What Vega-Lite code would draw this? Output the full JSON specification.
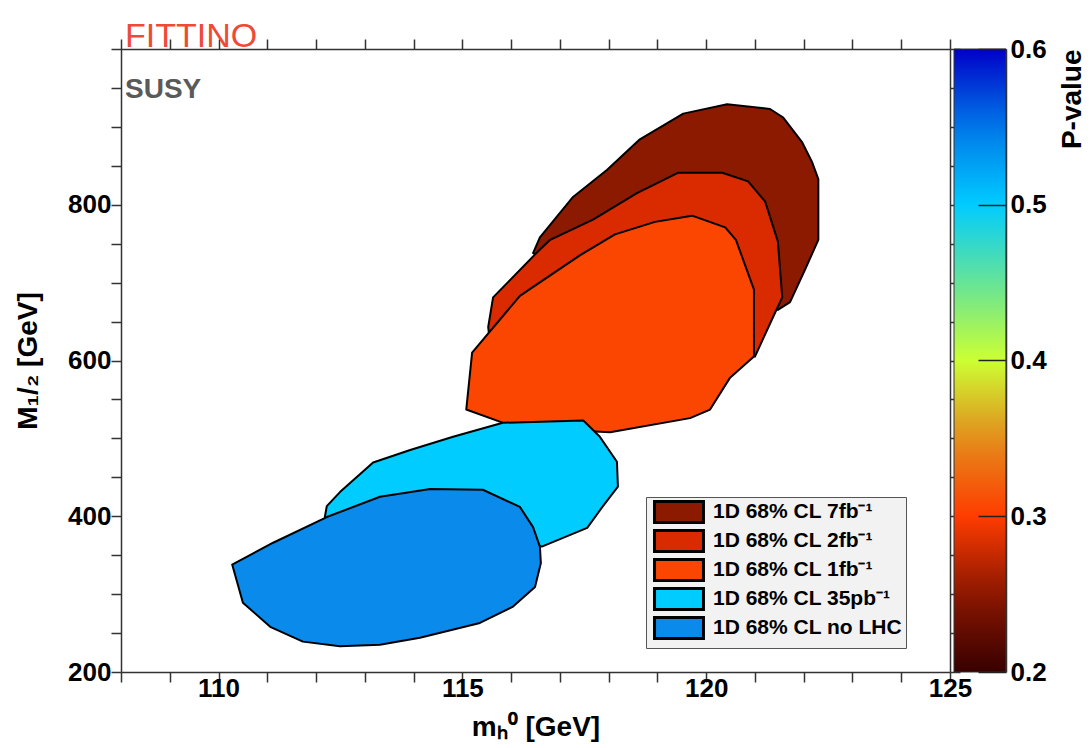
{
  "$schema": "https://vega.github.io/schema/vega-lite/v6.json",
  "width": 829,
  "height": 623,
  "autosize": {"type": "none"},
  "padding": {"left": 121, "top": 49, "right": 140, "bottom": 76},
  "background": "white",
  "config": {
    "font": "Liberation Sans",
    "view": {"stroke": null}
  },
  "title": {
    "text": "FITTINO",
    "subtitle": "SUSY",
    "anchor": "start",
    "frame": "group",
    "orient": "top",
    "offset": -68,
    "font": "Liberation Sans",
    "fontSize": 34,
    "fontWeight": "normal",
    "color": "#f04a36",
    "subtitleFont": "Liberation Sans",
    "subtitleFontSize": 28,
    "subtitleFontWeight": "bold",
    "subtitleColor": "#5a5a5a",
    "subtitlePadding": 22,
    "dx": 4
  },
  "datasets": {
    "regions": [
      {"region": "1D 68% CL 7fb⁻¹", "i": 0, "m_h0": 116.45, "M12": 738, "pvalue": 0.25},
      {"region": "1D 68% CL 7fb⁻¹", "i": 1, "m_h0": 116.59, "M12": 758, "pvalue": 0.25},
      {"region": "1D 68% CL 7fb⁻¹", "i": 2, "m_h0": 117.27, "M12": 810, "pvalue": 0.25},
      {"region": "1D 68% CL 7fb⁻¹", "i": 3, "m_h0": 117.97, "M12": 845, "pvalue": 0.25},
      {"region": "1D 68% CL 7fb⁻¹", "i": 4, "m_h0": 118.64, "M12": 884, "pvalue": 0.25},
      {"region": "1D 68% CL 7fb⁻¹", "i": 5, "m_h0": 119.53, "M12": 917, "pvalue": 0.25},
      {"region": "1D 68% CL 7fb⁻¹", "i": 6, "m_h0": 120.43, "M12": 929, "pvalue": 0.25},
      {"region": "1D 68% CL 7fb⁻¹", "i": 7, "m_h0": 121.31, "M12": 923, "pvalue": 0.25},
      {"region": "1D 68% CL 7fb⁻¹", "i": 8, "m_h0": 121.58, "M12": 912, "pvalue": 0.25},
      {"region": "1D 68% CL 7fb⁻¹", "i": 9, "m_h0": 121.97, "M12": 880, "pvalue": 0.25},
      {"region": "1D 68% CL 7fb⁻¹", "i": 10, "m_h0": 122.17, "M12": 855, "pvalue": 0.25},
      {"region": "1D 68% CL 7fb⁻¹", "i": 11, "m_h0": 122.30, "M12": 833, "pvalue": 0.25},
      {"region": "1D 68% CL 7fb⁻¹", "i": 12, "m_h0": 122.30, "M12": 755, "pvalue": 0.25},
      {"region": "1D 68% CL 7fb⁻¹", "i": 13, "m_h0": 122.03, "M12": 717, "pvalue": 0.25},
      {"region": "1D 68% CL 7fb⁻¹", "i": 14, "m_h0": 121.72, "M12": 675, "pvalue": 0.25},
      {"region": "1D 68% CL 7fb⁻¹", "i": 15, "m_h0": 121.47, "M12": 665, "pvalue": 0.25},
      {"region": "1D 68% CL 7fb⁻¹", "i": 16, "m_h0": 121.10, "M12": 678, "pvalue": 0.25},
      {"region": "1D 68% CL 7fb⁻¹", "i": 17, "m_h0": 116.70, "M12": 727, "pvalue": 0.25},

      {"region": "1D 68% CL 2fb⁻¹", "i": 0, "m_h0": 115.53, "M12": 643, "pvalue": 0.28},
      {"region": "1D 68% CL 2fb⁻¹", "i": 1, "m_h0": 115.63, "M12": 681, "pvalue": 0.28},
      {"region": "1D 68% CL 2fb⁻¹", "i": 2, "m_h0": 116.55, "M12": 740, "pvalue": 0.28},
      {"region": "1D 68% CL 2fb⁻¹", "i": 3, "m_h0": 116.80, "M12": 755, "pvalue": 0.28},
      {"region": "1D 68% CL 2fb⁻¹", "i": 4, "m_h0": 117.68, "M12": 781, "pvalue": 0.28},
      {"region": "1D 68% CL 2fb⁻¹", "i": 5, "m_h0": 118.58, "M12": 815, "pvalue": 0.28},
      {"region": "1D 68% CL 2fb⁻¹", "i": 6, "m_h0": 119.42, "M12": 841, "pvalue": 0.28},
      {"region": "1D 68% CL 2fb⁻¹", "i": 7, "m_h0": 120.33, "M12": 841, "pvalue": 0.28},
      {"region": "1D 68% CL 2fb⁻¹", "i": 8, "m_h0": 120.86, "M12": 830, "pvalue": 0.28},
      {"region": "1D 68% CL 2fb⁻¹", "i": 9, "m_h0": 121.21, "M12": 804, "pvalue": 0.28},
      {"region": "1D 68% CL 2fb⁻¹", "i": 10, "m_h0": 121.47, "M12": 753, "pvalue": 0.28},
      {"region": "1D 68% CL 2fb⁻¹", "i": 11, "m_h0": 121.56, "M12": 681, "pvalue": 0.28},
      {"region": "1D 68% CL 2fb⁻¹", "i": 12, "m_h0": 121.41, "M12": 661, "pvalue": 0.28},
      {"region": "1D 68% CL 2fb⁻¹", "i": 13, "m_h0": 121.00, "M12": 605, "pvalue": 0.28},
      {"region": "1D 68% CL 2fb⁻¹", "i": 14, "m_h0": 120.69, "M12": 614, "pvalue": 0.28},
      {"region": "1D 68% CL 2fb⁻¹", "i": 15, "m_h0": 115.57, "M12": 620, "pvalue": 0.28},

      {"region": "1D 68% CL 1fb⁻¹", "i": 0, "m_h0": 115.20, "M12": 610, "pvalue": 0.305},
      {"region": "1D 68% CL 1fb⁻¹", "i": 1, "m_h0": 115.08, "M12": 537, "pvalue": 0.305},
      {"region": "1D 68% CL 1fb⁻¹", "i": 2, "m_h0": 115.88, "M12": 519, "pvalue": 0.305},
      {"region": "1D 68% CL 1fb⁻¹", "i": 3, "m_h0": 117.00, "M12": 511, "pvalue": 0.305},
      {"region": "1D 68% CL 1fb⁻¹", "i": 4, "m_h0": 118.03, "M12": 508, "pvalue": 0.305},
      {"region": "1D 68% CL 1fb⁻¹", "i": 5, "m_h0": 119.67, "M12": 526, "pvalue": 0.305},
      {"region": "1D 68% CL 1fb⁻¹", "i": 6, "m_h0": 120.08, "M12": 537, "pvalue": 0.305},
      {"region": "1D 68% CL 1fb⁻¹", "i": 7, "m_h0": 120.49, "M12": 578, "pvalue": 0.305},
      {"region": "1D 68% CL 1fb⁻¹", "i": 8, "m_h0": 120.98, "M12": 605, "pvalue": 0.305},
      {"region": "1D 68% CL 1fb⁻¹", "i": 9, "m_h0": 120.98, "M12": 691, "pvalue": 0.305},
      {"region": "1D 68% CL 1fb⁻¹", "i": 10, "m_h0": 120.61, "M12": 755, "pvalue": 0.305},
      {"region": "1D 68% CL 1fb⁻¹", "i": 11, "m_h0": 120.39, "M12": 771, "pvalue": 0.305},
      {"region": "1D 68% CL 1fb⁻¹", "i": 12, "m_h0": 119.71, "M12": 786, "pvalue": 0.305},
      {"region": "1D 68% CL 1fb⁻¹", "i": 13, "m_h0": 118.95, "M12": 778, "pvalue": 0.305},
      {"region": "1D 68% CL 1fb⁻¹", "i": 14, "m_h0": 118.13, "M12": 762, "pvalue": 0.305},
      {"region": "1D 68% CL 1fb⁻¹", "i": 15, "m_h0": 117.41, "M12": 735, "pvalue": 0.305},
      {"region": "1D 68% CL 1fb⁻¹", "i": 16, "m_h0": 116.18, "M12": 683, "pvalue": 0.305},

      {"region": "1D 68% CL 35pb⁻¹", "i": 0, "m_h0": 112.18, "M12": 399, "pvalue": 0.5},
      {"region": "1D 68% CL 35pb⁻¹", "i": 1, "m_h0": 112.22, "M12": 413, "pvalue": 0.5},
      {"region": "1D 68% CL 35pb⁻¹", "i": 2, "m_h0": 112.49, "M12": 431, "pvalue": 0.5},
      {"region": "1D 68% CL 35pb⁻¹", "i": 3, "m_h0": 113.17, "M12": 469, "pvalue": 0.5},
      {"region": "1D 68% CL 35pb⁻¹", "i": 4, "m_h0": 113.93, "M12": 485, "pvalue": 0.5},
      {"region": "1D 68% CL 35pb⁻¹", "i": 5, "m_h0": 114.81, "M12": 502, "pvalue": 0.5},
      {"region": "1D 68% CL 35pb⁻¹", "i": 6, "m_h0": 115.83, "M12": 520, "pvalue": 0.5},
      {"region": "1D 68% CL 35pb⁻¹", "i": 7, "m_h0": 117.48, "M12": 523, "pvalue": 0.5},
      {"region": "1D 68% CL 35pb⁻¹", "i": 8, "m_h0": 117.82, "M12": 502, "pvalue": 0.5},
      {"region": "1D 68% CL 35pb⁻¹", "i": 9, "m_h0": 118.17, "M12": 470, "pvalue": 0.5},
      {"region": "1D 68% CL 35pb⁻¹", "i": 10, "m_h0": 118.19, "M12": 438, "pvalue": 0.5},
      {"region": "1D 68% CL 35pb⁻¹", "i": 11, "m_h0": 117.86, "M12": 411, "pvalue": 0.5},
      {"region": "1D 68% CL 35pb⁻¹", "i": 12, "m_h0": 117.56, "M12": 385, "pvalue": 0.5},
      {"region": "1D 68% CL 35pb⁻¹", "i": 13, "m_h0": 116.63, "M12": 361, "pvalue": 0.5},
      {"region": "1D 68% CL 35pb⁻¹", "i": 14, "m_h0": 116.18, "M12": 370, "pvalue": 0.5},
      {"region": "1D 68% CL 35pb⁻¹", "i": 15, "m_h0": 112.49, "M12": 382, "pvalue": 0.5},

      {"region": "1D 68% CL no LHC", "i": 0, "m_h0": 110.28, "M12": 338, "pvalue": 0.545},
      {"region": "1D 68% CL no LHC", "i": 1, "m_h0": 110.50, "M12": 289, "pvalue": 0.545},
      {"region": "1D 68% CL no LHC", "i": 2, "m_h0": 111.06, "M12": 258, "pvalue": 0.545},
      {"region": "1D 68% CL no LHC", "i": 3, "m_h0": 111.73, "M12": 239, "pvalue": 0.545},
      {"region": "1D 68% CL no LHC", "i": 4, "m_h0": 112.49, "M12": 233, "pvalue": 0.545},
      {"region": "1D 68% CL no LHC", "i": 5, "m_h0": 113.31, "M12": 235, "pvalue": 0.545},
      {"region": "1D 68% CL no LHC", "i": 6, "m_h0": 114.13, "M12": 244, "pvalue": 0.545},
      {"region": "1D 68% CL no LHC", "i": 7, "m_h0": 115.36, "M12": 263, "pvalue": 0.545},
      {"region": "1D 68% CL no LHC", "i": 8, "m_h0": 116.04, "M12": 284, "pvalue": 0.545},
      {"region": "1D 68% CL no LHC", "i": 9, "m_h0": 116.49, "M12": 309, "pvalue": 0.545},
      {"region": "1D 68% CL no LHC", "i": 10, "m_h0": 116.61, "M12": 340, "pvalue": 0.545},
      {"region": "1D 68% CL no LHC", "i": 11, "m_h0": 116.59, "M12": 361, "pvalue": 0.545},
      {"region": "1D 68% CL no LHC", "i": 12, "m_h0": 116.45, "M12": 386, "pvalue": 0.545},
      {"region": "1D 68% CL no LHC", "i": 13, "m_h0": 116.18, "M12": 412, "pvalue": 0.545},
      {"region": "1D 68% CL no LHC", "i": 14, "m_h0": 115.42, "M12": 434, "pvalue": 0.545},
      {"region": "1D 68% CL no LHC", "i": 15, "m_h0": 114.34, "M12": 435, "pvalue": 0.545},
      {"region": "1D 68% CL no LHC", "i": 16, "m_h0": 113.31, "M12": 425, "pvalue": 0.545},
      {"region": "1D 68% CL no LHC", "i": 17, "m_h0": 112.22, "M12": 399, "pvalue": 0.545},
      {"region": "1D 68% CL no LHC", "i": 18, "m_h0": 111.12, "M12": 366, "pvalue": 0.545}
    ]
  },
  "data": {"name": "regions"},
  "layer": [
    {
      "mark": {"type": "line", "stroke": "black", "strokeWidth": 2, "strokeJoin": "round", "interpolate": "linear-closed", "fillOpacity": 1},
      "encoding": {
        "x": {
          "field": "m_h0", "type": "quantitative",
          "scale": {"domain": [108, 125], "nice": false, "zero": false},
          "axis": {
            "orient": "bottom",
            "values": [108, 109, 110, 111, 112, 113, 114, 115, 116, 117, 118, 119, 120, 121, 122, 123, 124, 125],
            "tickSize": 10,
            "labelExpr": "datum.value % 5 === 0 ? datum.label : ''",
            "labelFontSize": 26, "labelFontWeight": "bold", "labelColor": "black",
            "labelPadding": -7, "labelFlush": false, "labelOverlap": false,
            "domainColor": "#333", "domainWidth": 1.5,
            "tickColor": "#333", "tickWidth": 1.5, "grid": false,
            "title": "mₕ⁰ [GeV]", "titleFontSize": 28, "titleFontWeight": "bold", "titleColor": "black", "titlePadding": 12,
            "encode": {"ticks": {"y2": {"value": {"expr": "datum.value % 5 === 0 ? -18 : -10"}}}}
          }
        },
        "y": {
          "field": "M12", "type": "quantitative",
          "scale": {"domain": [200, 1000], "nice": false, "zero": false},
          "axis": {
            "orient": "left",
            "values": [200, 250, 300, 350, 400, 450, 500, 550, 600, 650, 700, 750, 800, 850, 900, 950, 1000],
            "tickSize": 10,
            "labelExpr": "datum.value % 200 === 0 && datum.value < 1000 ? datum.label : ''",
            "labelFontSize": 26, "labelFontWeight": "bold", "labelColor": "black",
            "labelPadding": 0, "labelOverlap": false, "labelFlush": false,
            "domainColor": "#333", "domainWidth": 1.5,
            "tickColor": "#333", "tickWidth": 1.5, "grid": false,
            "title": "M₁/₂ [GeV]", "titleFontSize": 28, "titleFontWeight": "bold", "titleColor": "black", "titlePadding": 25,
            "encode": {"ticks": {"x2": {"value": {"expr": "datum.value % 200 === 0 ? 18 : 10"}}}}
          }
        },
        "order": {"field": "i", "type": "quantitative"},
        "fill": {
          "field": "region", "type": "nominal",
          "scale": {
            "domain": ["1D 68% CL 7fb⁻¹", "1D 68% CL 2fb⁻¹", "1D 68% CL 1fb⁻¹", "1D 68% CL 35pb⁻¹", "1D 68% CL no LHC"],
            "range": ["#8c1a00", "#da2a00", "#fa4600", "#00ccff", "#0a8aeb"]
          },
          "legend": {
            "orient": "none", "legendX": 525, "legendY": 448, "direction": "vertical",
            "title": null,
            "symbolType": "M-2.33,-1L2.33,-1L2.33,1L-2.33,1Z",
            "symbolSize": 441, "symbolOffset": 18,
            "symbolStrokeColor": "black", "symbolStrokeWidth": 3, "symbolOpacity": 1,
            "labelFontSize": 21, "labelFontWeight": "bold", "labelColor": "black", "labelOffset": 22, "labelLimit": 400,
            "rowPadding": -5, "padding": 3,
            "fillColor": "#f2f2f2", "strokeColor": "#555"
          }
        }
      }
    },
    {
      "mark": {"type": "point", "size": 0, "opacity": 1, "filled": true, "strokeWidth": 0},
      "encoding": {
        "x": {
          "field": "m_h0", "type": "quantitative",
          "scale": {"domain": [108, 125], "nice": false, "zero": false},
          "axis": {
            "orient": "top",
            "values": [108, 109, 110, 111, 112, 113, 114, 115, 116, 117, 118, 119, 120, 121, 122, 123, 124, 125],
            "tickSize": 10, "labels": false, "title": null,
            "domainColor": "#333", "domainWidth": 1.5,
            "tickColor": "#333", "tickWidth": 1.5, "grid": false,
            "encode": {"ticks": {"y2": {"value": {"expr": "datum.value % 5 === 0 ? 18 : 10"}}}}
          }
        },
        "y": {
          "field": "M12", "type": "quantitative",
          "scale": {"domain": [200, 1000], "nice": false, "zero": false},
          "axis": {
            "orient": "right",
            "values": [200, 250, 300, 350, 400, 450, 500, 550, 600, 650, 700, 750, 800, 850, 900, 950, 1000],
            "tickSize": 10, "labels": false, "title": null,
            "domainColor": "#333", "domainWidth": 1.5,
            "tickColor": "#333", "tickWidth": 1.5, "grid": false,
            "encode": {"ticks": {"x2": {"value": {"expr": "datum.value % 200 === 0 ? -18 : -10"}}}}
          }
        },
        "color": {
          "field": "pvalue", "type": "quantitative",
          "scale": {
            "type": "linear",
            "domain": [0.2, 0.25, 0.3, 0.35, 0.4, 0.45, 0.5, 0.55, 0.6],
            "range": ["#380000", "#8a1600", "#ff3c00", "#e38c1c", "#ccff33", "#66e497", "#00ccff", "#0078e8", "#0000c8"],
            "interpolate": "rgb"
          },
          "legend": {
            "orient": "none", "legendX": 833, "legendY": 0, "direction": "vertical",
            "gradientLength": 623, "gradientThickness": 52,
            "gradientStrokeColor": "#333", "gradientStrokeWidth": 1,
            "values": [0.2, 0.6],
            "labelOpacity": 0, "labelFontSize": 1,
            "title": null,
            "padding": 0
          }
        }
      }
    },
    {
      "mark": {"type": "point", "size": 0, "opacity": 1, "filled": true, "strokeWidth": 0},
      "encoding": {
        "y": {
          "field": "pvalue", "type": "quantitative",
          "scale": {"domain": [0.2, 0.6], "nice": false, "zero": false},
          "axis": {
            "orient": "right", "offset": 56, "zindex": 2,
            "values": [0.2, 0.3, 0.4, 0.5, 0.6], "format": ".1f",
            "tickSize": -28, "tickColor": "#222", "tickWidth": 1.5,
            "labelFontSize": 26, "labelFontWeight": "bold", "labelColor": "black",
            "labelPadding": 32, "labelOverlap": false, "labelFlush": false,
            "domainColor": "#333", "domainWidth": 1.5, "grid": false,
            "title": "P-value", "titleFontSize": 28, "titleFontWeight": "bold", "titleColor": "black",
            "titleAngle": 270, "titleAnchor": "end", "titleAlign": "right", "titleBaseline": "top",
            "titlePadding": 12
          }
        }
      }
    }
  ],
  "resolve": {"axis": {"x": "independent", "y": "independent"}, "scale": {"y": "independent"}}
}
